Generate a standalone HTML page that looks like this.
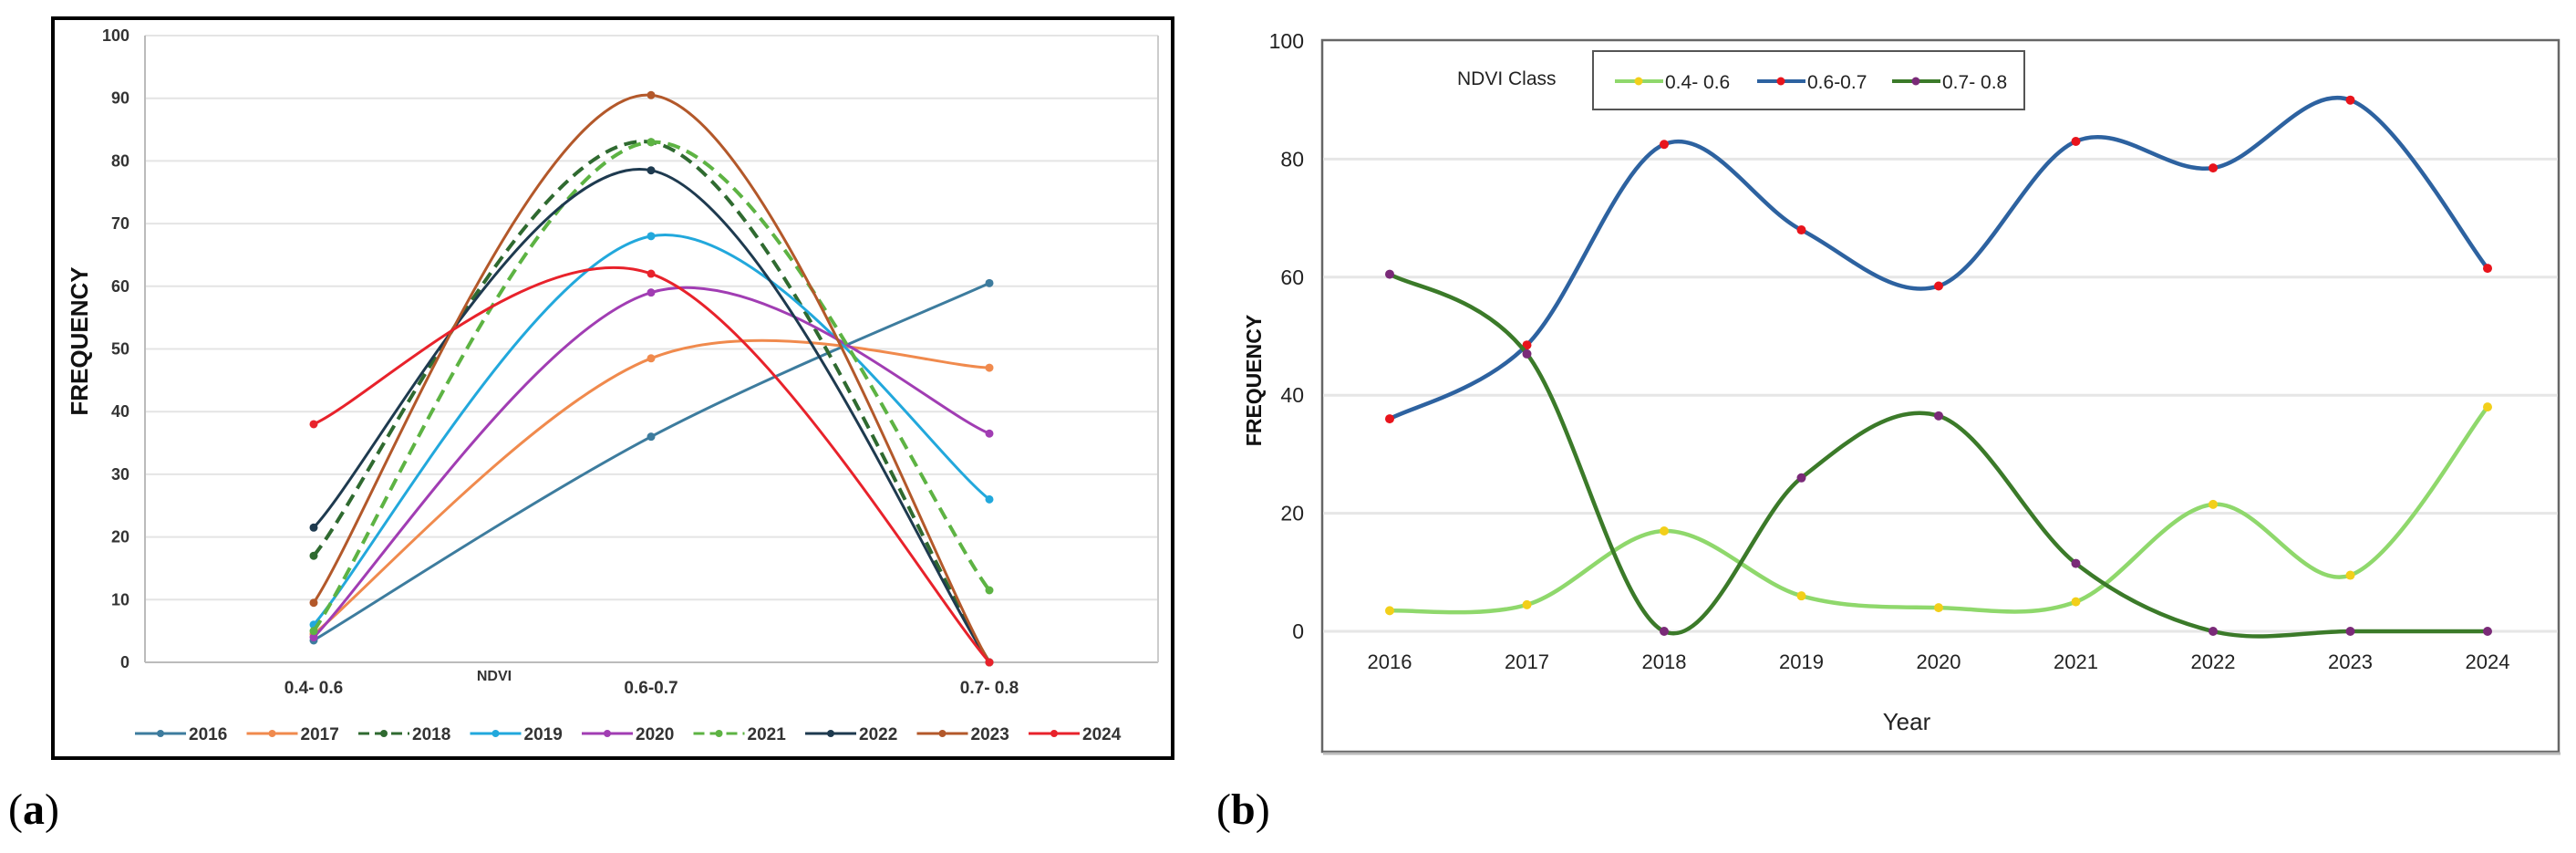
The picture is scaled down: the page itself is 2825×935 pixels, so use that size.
<!DOCTYPE html>
<html><head><meta charset="utf-8"><style>
html,body{margin:0;padding:0;background:#fff;}
svg{display:block;font-family:"Liberation Sans",sans-serif;}
</style></head><body>
<svg id="fig" width="2825" height="935" viewBox="0 0 2825 935" xmlns="http://www.w3.org/2000/svg">
<g id="pa"></g>
<g id="pb"></g>
<text x="9" y="903" font-family="Liberation Serif,serif" font-size="48">(<tspan font-weight="bold">a</tspan>)</text>
<text x="1334" y="903" font-family="Liberation Serif,serif" font-size="48">(<tspan font-weight="bold">b</tspan>)</text>
</svg>
<script>
// ---- Chart A data ----
const aCategories = ["0.4- 0.6", "0.6-0.7", "0.7- 0.8"];
const aSeriesNames = ["2016","2017","2018","2019","2020","2021","2022","2023","2024"];
const a2016 = [3.5, 36, 60.5];
const a2017 = [4.5, 48.5, 47];
const a2018 = [17, 83, 0];
const a2019 = [6, 68, 26];
const a2020 = [4, 59, 36.5];
const a2021 = [5, 83, 11.5];
const a2022 = [21.5, 78.5, 0];
const a2023 = [9.5, 90.5, 0];
const a2024 = [38, 62, 0];
const aTicks = [0,10,20,30,40,50,60,70,80,90,100];
// ---- Chart B data ----
const bYears = ["2016","2017","2018","2019","2020","2021","2022","2023","2024"];
const bClassNames = ["0.4- 0.6","0.6-0.7","0.7- 0.8"];
const bLow = [3.5, 4.5, 17, 6, 4, 5, 21.5, 9.5, 38];
const bMid = [36, 48.5, 82.5, 68, 58.5, 83, 78.5, 90, 61.5];
const bHigh = [60.5, 47, 0, 26, 36.5, 11.5, 0, 0, 0];
const bTicks = [0,20,40,60,80,100];

const NS="http://www.w3.org/2000/svg";
function mk(parent,tag,attrs,text){const e=document.createElementNS(NS,tag);for(const k in attrs)e.setAttribute(k,attrs[k]);if(text!==undefined)e.textContent=text;parent.appendChild(e);return e;}
function spline(pts){
  let d="M"+pts[0][0]+","+pts[0][1];
  for(let i=0;i<pts.length-1;i++){
    const p0=pts[i-1]||pts[i],p1=pts[i],p2=pts[i+1],p3=pts[i+2]||pts[i+1];
    const c1=[p1[0]+(p2[0]-p0[0])/6,p1[1]+(p2[1]-p0[1])/6];
    const c2=[p2[0]-(p3[0]-p1[0])/6,p2[1]-(p3[1]-p1[1])/6];
    d+=" C"+c1[0]+","+c1[1]+" "+c2[0]+","+c2[1]+" "+p2[0]+","+p2[1];
  }
  return d;
}

// ---- Chart A ----
(function(){
  const g=document.getElementById('pa');
  const fr=mk(g,'rect',{x:58,y:20,width:1228,height:811,fill:'#fff',stroke:'#000','stroke-width':4});
  
  
  const x0=159,x1=1270,yTop=39,yBot=726;
  const ys=v=>yBot-(v/100)*(yBot-yTop);
  const cx=[344,714,1085];
  const xs=i=>cx[i];
  aTicks.forEach(t=>{
    const l=mk(g,'line',{x1:x0,x2:x1,y1:ys(t),y2:ys(t),stroke:t===0?'#bbb':'#e4e4e4','stroke-width':2});
    
    
    const tx=mk(g,'text',{x:142,y:ys(t)+6,'text-anchor':'end','font-size':18,'font-weight':'bold',fill:'#333'},t);
    
    
  });
  mk(g,'line',{x1:x0,x2:x0,y1:yTop,y2:yBot,stroke:'#bbb','stroke-width':2});
  mk(g,'line',{x1:x1,x2:x1,y1:yTop,y2:yBot,stroke:'#ccc','stroke-width':2});
  aCategories.forEach((c,i)=>{
    const t=mk(g,'text',{x:xs(i),y:760,'text-anchor':'middle','font-size':19,'font-weight':'bold',fill:'#333'},c);
    
    
  });
  const nd=mk(g,'text',{x:542,y:746,'text-anchor':'middle','font-size':16,'font-weight':'bold',fill:'#333'},'NDVI');
  
  
  const yt=mk(g,'text',{x:0,y:0,transform:'translate(96,374) rotate(-90)','text-anchor':'middle','font-size':26,'font-weight':'bold',fill:'#111'},'FREQUENCY');
  
  
  const series=[a2016,a2017,a2018,a2019,a2020,a2021,a2022,a2023,a2024];
  const colors=['#3d7c9e','#f08a4d','#2f6a30','#22a8dc','#a13db3','#5db343','#1e3a4f','#b3582a','#e8222b'];
  const dashed=[false,false,true,false,false,true,false,false,false];
  series.forEach((s,k)=>{
    const pts=s.map((v,i)=>[xs(i),ys(v)]);
    const p=mk(g,'path',{d:spline(pts),fill:'none',stroke:colors[k],'stroke-width':dashed[k]?4:3,'stroke-dasharray':dashed[k]?'14,8':'none'});
    
    
    pts.forEach((q,i)=>{
      const m=mk(g,'circle',{cx:q[0],cy:q[1],r:4.5,fill:colors[k]});
      
      
    });
    const lx=148+k*122.5;
    const lg=mk(g,'g',{});
    
    
    mk(lg,'line',{x1:lx,x2:lx+56,y1:804,y2:804,stroke:colors[k],'stroke-width':3,'stroke-dasharray':dashed[k]?'12,6':'none'});
    mk(lg,'circle',{cx:lx+28,cy:804,r:4,fill:colors[k]});
    mk(lg,'text',{x:lx+59,y:811,'font-size':19,'font-weight':'bold',fill:'#333'},aSeriesNames[k]);
  });
})();

// ---- Chart B ----
(function(){
  const g=document.getElementById('pb');
  const fr=mk(g,'rect',{x:1450,y:44,width:1356,height:780,fill:'#fff',stroke:'#666','stroke-width':2.5});
  
  
  mk(g,'line',{x1:1451,x2:2808,y1:826,y2:826,stroke:'#bbb','stroke-width':3});
  const yTop=45,yBot=692;
  const ys=v=>yBot-(v/100)*(yBot-yTop);
  const xs=i=>1524+i*150.5;
  bTicks.forEach(t=>{
    if(t<100){
      const l=mk(g,'line',{x1:1451,x2:2805,y1:ys(t),y2:ys(t),stroke:'#e6e6e6','stroke-width':3});
      
      
    }
    const tx=mk(g,'text',{x:1430,y:ys(t)+8,'text-anchor':'end','font-size':23,fill:'#222'},t);
    
    
  });
  bYears.forEach((y,i)=>{
    const t=mk(g,'text',{x:xs(i),y:733,'text-anchor':'middle','font-size':22,fill:'#222'},y);
    
    
  });
  const xt=mk(g,'text',{x:2091,y:800,'text-anchor':'middle','font-size':26,fill:'#222'},'Year');
  
  
  const yt=mk(g,'text',{x:0,y:0,transform:'translate(1383,417) rotate(-90)','text-anchor':'middle','font-size':23,'font-weight':'bold',fill:'#111'},'FREQUENCY');
  
  
  const series=[bLow,bMid,bHigh];
  const colors=['#8fd86c','#2d62a0','#3b7a29'];
  const mcol=['#f2cf1a','#e8141c','#7a2a78'];
  series.forEach((s,k)=>{
    const pts=s.map((v,i)=>[xs(i),ys(v)]);
    const p=mk(g,'path',{d:spline(pts),fill:'none',stroke:colors[k],'stroke-width':4.5});
    
    
    pts.forEach((q,i)=>{
      const m=mk(g,'circle',{cx:q[0],cy:q[1],r:5,fill:mcol[k]});
      
      
    });
  });
  const lb=mk(g,'rect',{x:1747,y:56,width:473,height:64,fill:'#fff',stroke:'#555','stroke-width':2});
  
  
  const lt=mk(g,'text',{x:1598,y:93,'font-size':21,fill:'#222'},'NDVI Class');
  
  
  const lxs=[1771,1927,2075];
  bClassNames.forEach((n,k)=>{
    const e=mk(g,'g',{});
    
    
    mk(e,'line',{x1:lxs[k],x2:lxs[k]+53,y1:89,y2:89,stroke:colors[k],'stroke-width':4});
    mk(e,'circle',{cx:lxs[k]+26,cy:89,r:4.5,fill:mcol[k]});
    mk(e,'text',{x:lxs[k]+55,y:97,'font-size':21,fill:'#222'},n);
  });
})();
</script>
</body></html>
